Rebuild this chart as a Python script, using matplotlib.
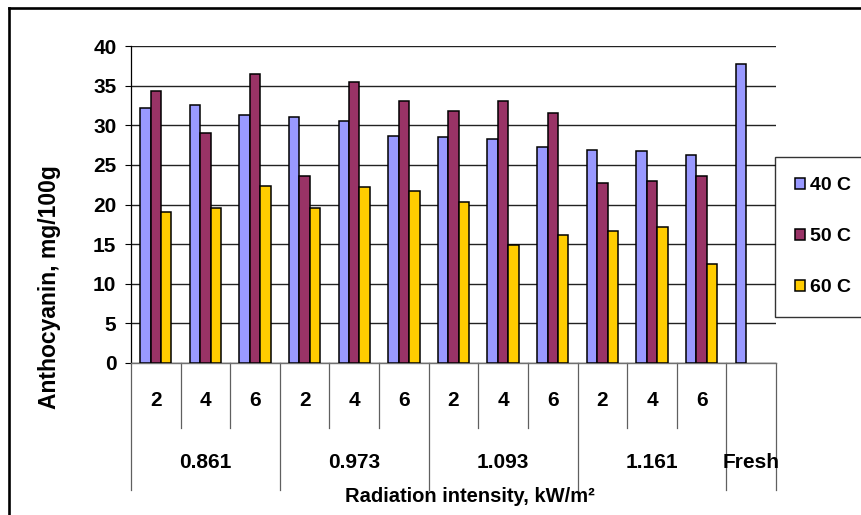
import numpy as np
import matplotlib
matplotlib.use("Agg")
import matplotlib.pyplot as plt
from matplotlib.lines import Line2D
import matplotlib.transforms as mtransforms

# Anthocyanin content by radiation intensity, lamp distance and drying temperature
groups = ["0.861", "0.973", "1.093", "1.161"]
distances = ["2", "4", "6"]
fresh_label = "Fresh"
series_names = ["40 C", "50 C", "60 C"]
vals_40 = [32.2, 32.5, 31.3, 31.0, 30.5, 28.7, 28.5, 28.3, 27.2, 26.9, 26.8, 26.3, 37.7]
vals_50 = [34.3, 29.0, 36.5, 23.6, 35.4, 33.1, 31.8, 33.1, 31.5, 22.7, 23.0, 23.6, np.nan]
vals_60 = [19.1, 19.5, 22.3, 19.5, 22.2, 21.7, 20.3, 14.9, 16.1, 16.7, 17.1, 12.5, np.nan]
colors = ["#9999FF", "#993366", "#FFCC00"]

plt.rcParams["font.family"] = ["Liberation Sans", "DejaVu Sans"]
plt.rcParams["font.weight"] = "bold"

W, H = 861, 515
fig = plt.figure(figsize=(W / 100, H / 100), dpi=100)
ax = fig.add_axes([131 / W, 1 - 363 / H, (776 - 131) / W, (363 - 46) / H])

n = len(vals_40)
x = np.arange(n)
bw = 0.21
handles = []
for k, (vals, col, name) in enumerate(zip([vals_40, vals_50, vals_60], colors, series_names)):
    b = ax.bar(x + (k - 1) * bw, vals, width=bw, color=col, edgecolor="black",
               linewidth=1.1, label=name, zorder=3)
    handles.append(b)

ax.set_xlim(-0.5, n - 0.5)
ax.set_ylim(0, 40)
ax.set_yticks(np.arange(0, 41, 5))
ax.tick_params(axis="y", length=4.5, width=0.8, pad=6, labelsize=15)
ax.set_xticks([])
ax.grid(axis="y", color="#222222", linewidth=1.0, zorder=0)
for s in ["top", "right"]:
    ax.spines[s].set_visible(False)
ax.spines["left"].set_color("black")
ax.spines["left"].set_linewidth(0.9)
ax.spines["bottom"].set_color("#707070")
ax.spines["bottom"].set_linewidth(1.0)

# Hierarchical category axis below the bars
trans = mtransforms.blended_transform_factory(ax.transData, ax.transAxes)
ah = 363 - 46
y_sub = -(428 - 363) / ah
y_grp = -(490 - 363) / ah
y_sub_txt = -(400 - 363) / ah
y_grp_txt = -(463 - 363) / ah
sep_col = "#606060"
n_sub = len(distances)
group_edges = [i * n_sub - 0.5 for i in range(len(groups) + 1)] + [n - 0.5]
for i in range(n + 1):
    xe = i - 0.5
    y_end = y_grp if xe in group_edges else y_sub
    ax.add_line(Line2D([xe, xe], [0, y_end], transform=trans, color=sep_col,
                       linewidth=0.9, clip_on=False))
for gi, g in enumerate(groups):
    for si, d in enumerate(distances):
        ax.text(gi * n_sub + si, y_sub_txt, d, transform=trans, ha="center",
                va="center", fontsize=15, fontweight="bold")
    ax.text(gi * n_sub + 1, y_grp_txt, g, transform=trans, ha="center",
            va="center", fontsize=15, fontweight="bold")
ax.text(n - 1, y_grp_txt, fresh_label, transform=trans, ha="center", va="center",
        fontsize=15, fontweight="bold")

fig.text(470 / W, 1 - 497 / H, "Radiation intensity, kW/m²", ha="center",
         va="center", fontsize=14.5, fontweight="bold")
fig.text(50 / W, 1 - 287 / H, "Anthocyanin, mg/100g", rotation=90, ha="center",
         va="center", fontsize=16.5, fontweight="bold")

leg = fig.legend(handles=handles, labels=series_names, loc="upper left",
                 bbox_to_anchor=(775 / W, 1 - 157 / H), borderaxespad=0,
                 fontsize=14, frameon=True, fancybox=False, edgecolor="black",
                 handlelength=0.5, handleheight=0.5, handletextpad=0.25,
                 borderpad=1.05, labelspacing=1.75)
leg.get_frame().set_linewidth(1.0)
for t in leg.get_texts():
    t.set_fontweight("bold")

# Outer chart border (left and top edges)
fig.add_artist(Line2D([8.5 / W, 8.5 / W], [0, 1 - 8 / H], transform=fig.transFigure,
                      color="black", linewidth=1.9))
fig.add_artist(Line2D([8.5 / W, 1], [1 - 8 / H, 1 - 8 / H], transform=fig.transFigure,
                      color="black", linewidth=1.9))

fig.savefig("out.png", dpi=100)
